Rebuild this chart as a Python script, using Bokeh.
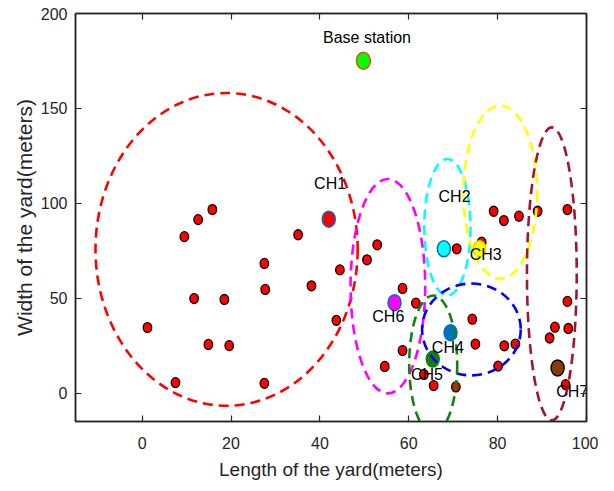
from bokeh.plotting import figure
from bokeh.models import Range1d, LinearAxis, FixedTicker
from bokeh.embed import file_html
from bokeh.resources import INLINE
from bokeh.core.properties import value

# ---- data ----
sensor_x = [1.2, 7.5, 9.5, 12.6, 15.8, 11.7, 14.9, 19.6, 18.5, 27.5, 27.7, 27.5,
            38.1, 35.1, 44.5, 50.6, 52.9, 43.7, 58.6, 61.6, 58.6, 54.6, 63.4, 65.6,
            70.6, 74.3, 75.0, 81.5, 84.0, 80.1, 70.8, 76.4, 79.1, 81.4, 84.8, 89.0,
            95.7, 95.7, 92.9, 95.9, 91.7, 95.3]
sensor_y = [34.5, 5.5, 82.4, 91.4, 96.7, 49.8, 25.6, 25.0, 49.3, 68.3, 54.6, 5.1,
            56.5, 83.4, 64.9, 70.2, 78.1, 38.3, 55.1, 47.4, 22.4, 14.0, 9.8, 3.9,
            3.2, 38.9, 25.8, 24.9, 25.8, 14.2, 76.0, 79.5, 95.8, 90.9, 93.2, 95.8,
            96.7, 48.3, 34.7, 34.0, 29.0, 4.4]

ch_names = ["CH1", "CH2", "CH3", "CH4", "CH5", "CH6", "CH7"]
ch_x = [42.0, 67.9, 75.9, 69.4, 65.4, 56.8, 93.5]
ch_y = [91.6, 76.0, 76.0, 31.8, 17.9, 47.6, 13.2]
ch_fill = ["#FF0000", "#00FFFF", "#FFFF00", "#0072BD", "#108010", "#FF00FF", "#8B3A0A"]
ch_edge = ["#0072BD", "#0072BD", "#E6D600", "#0072BD", "#108010", "#0072BD", "#000000"]
ch_label_x = [42.3, 70.3, 77.3, 68.8, 64.1, 55.4, 96.8]
ch_label_y = [110.4, 103.5, 73.0, 23.8, 9.6, 40.1, 0.6]

bs_x, bs_y = [49.8], [175.1]
bs_label_x, bs_label_y = [50.6], [187.2]

# cluster boundary ellipses: centre x, centre y, full width, full height
cl_cx = [19.0, 55.3, 68.7, 80.6, 74.1, 65.5, 92.2]
cl_cy = [75.7, 56.3, 87.4, 105.8, 33.5, 15.2, 62.8]
cl_w = [59.0, 16.8, 10.4, 16.6, 22.2, 10.8, 11.2]
cl_h = [164.8, 113.0, 72.0, 91.2, 48.4, 72.4, 154.4]
cl_color = ["#FF0000", "#FF00FF", "#00FFFF", "#FFFF00", "#0000FF", "#108010", "#A2142F"]

x_ticks = [0, 20, 40, 60, 80, 100]
y_ticks = [0, 50, 100, 150, 200]

FONT = "Liberation Sans"
TXT = "#262626"

p = figure(width=598, height=483, x_range=Range1d(-15, 100), y_range=Range1d(-15, 200),
           output_backend="svg", toolbar_location=None,
           min_border_left=75, min_border_right=12, min_border_top=13, min_border_bottom=62)
p.grid.visible = False
p.outline_line_color = TXT
p.outline_line_width = 1.5

for ax in (p.xaxis[0], p.yaxis[0]):
    ax.major_tick_in = 6
    ax.major_tick_out = 0
    ax.minor_tick_line_color = None
    ax.axis_line_color = TXT
    ax.axis_line_width = 1.5
    ax.major_tick_line_color = TXT
    ax.major_tick_line_width = 1.2
    ax.major_label_text_font = FONT
    ax.major_label_text_font_size = "16px"
    ax.major_label_text_color = TXT
    ax.axis_label_text_font_style = "normal"
    ax.axis_label_text_color = TXT
    ax.axis_label_text_font = FONT

p.xaxis[0].ticker = FixedTicker(ticks=x_ticks)
p.yaxis[0].ticker = FixedTicker(ticks=y_ticks)
p.xaxis[0].axis_label = "Length of the yard(meters)"
p.xaxis[0].axis_label_text_font_size = "19px"
p.xaxis[0].major_label_standoff = 15
p.xaxis[0].axis_label_standoff = 7
p.yaxis[0].axis_label = "Width of the yard(meters)"
p.yaxis[0].axis_label_text_font_size = "21px"
p.yaxis[0].major_label_standoff = 8
p.yaxis[0].axis_label_standoff = 2

for loc, ticks in (("above", x_ticks), ("right", y_ticks)):
    ax = LinearAxis(ticker=FixedTicker(ticks=ticks), major_tick_in=6, major_tick_out=0,
                    minor_tick_line_color=None, axis_line_color=TXT, axis_line_width=1.5,
                    major_tick_line_color=TXT, major_tick_line_width=1.2,
                    major_label_overrides={t: "" for t in ticks}, major_label_standoff=0)
    p.add_layout(ax, loc)

# sensor nodes
p.ellipse(x=sensor_x, y=sensor_y, width=8.5, height=10, width_units="screen",
          height_units="screen", fill_color="#FF0000", line_color="#000000", line_width=1.3)

# cluster heads
p.ellipse(x=ch_x, y=ch_y, width=13, height=16, width_units="screen", height_units="screen",
          fill_color=ch_fill, line_color=ch_edge, line_width=1.5)

# base station
p.ellipse(x=bs_x, y=bs_y, width=14, height=17, width_units="screen", height_units="screen",
          fill_color="#00FF00", line_color="#D95319", line_width=1.5)

# cluster boundaries
p.ellipse(x=cl_cx, y=cl_cy, width=cl_w, height=cl_h, fill_color=None,
          line_color=cl_color, line_width=2.6, line_dash="10 6")

p.text(x=ch_label_x, y=ch_label_y, text=ch_names, text_align="center",
       text_baseline="middle", text_font=value(FONT), text_font_size="16px",
       text_color="#000000")
p.text(x=bs_label_x, y=bs_label_y, text=["Base station"], text_align="center",
       text_baseline="middle", text_font=value(FONT), text_font_size="16px",
       text_color="#000000")

open("out.html", "w").write(file_html(p, INLINE))
